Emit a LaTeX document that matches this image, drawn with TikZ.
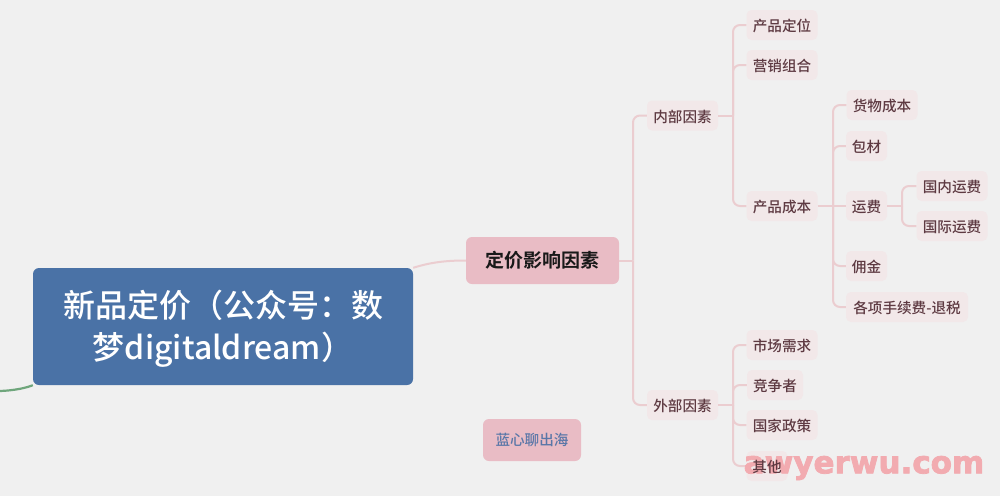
\documentclass[tikz,border=0pt]{standalone}
\usepackage{fontspec}
\setmainfont{Noto Sans CJK SC Medium}
\newfontfamily\cjkbold{Noto Sans CJK SC Bold}
\newfontfamily\wmfont[FakeBold=2.5]{DejaVu Sans Bold}
\tikzset{
  leaf/.style={fill=leaffill,text=leaftext,rounded corners=5pt,inner sep=0pt,minimum height=30pt,font=\fontsize{14.6}{16}\selectfont,execute at begin node={\rule{0pt}{14.8pt}}},
  rootbox/.style={fill=rootblue,text=white,rounded corners=6pt,inner sep=0pt,minimum width=380pt,minimum height=117pt,align=center,font=\fontsize{32}{42}\selectfont},
  mainbox/.style={fill=pinkbox,text=black!90,rounded corners=6pt,inner sep=0pt,minimum width=153pt,minimum height=47pt,font=\fontsize{19}{22}\cjkbold},
  notebox/.style={fill=pinkbox,text=noteblue,rounded corners=6pt,inner sep=0pt,minimum width=98pt,minimum height=42pt,font=\fontsize{14.6}{16}\selectfont},
  link/.style={draw=linkpink,line width=2pt,rounded corners=7pt},
  greenlink/.style={draw=linkgreen,line width=2.2pt},
  wmark/.style={text=wmpink,inner sep=0pt,font=\fontsize{31}{32}\wmfont}
}
\definecolor{bg}{HTML}{F0F0F0}
\definecolor{leaffill}{HTML}{F2E8E9}
\definecolor{leaftext}{HTML}{5E3A42}
\definecolor{rootblue}{HTML}{4A72A6}
\definecolor{pinkbox}{HTML}{E9BCC5}
\definecolor{noteblue}{HTML}{5A77A8}
\definecolor{linkpink}{HTML}{EBCDD0}
\definecolor{linkgreen}{HTML}{6FA67C}
\definecolor{wmpink}{HTML}{F2ABB0}
\begin{document}
\begin{tikzpicture}[x=1pt,y=-1pt]
\useasboundingbox (0,0) rectangle (1000,496);
\fill[bg] (0,0) rectangle (1000,496);
% hubs
\coordinate (hubmain) at (633,260.5);
\coordinate (hubin) at (733,115.5);
\coordinate (hubout) at (733,405);
\coordinate (hubcost) at (833,206);
\coordinate (hubship) at (902,206);
\coordinate (greenend) at (0,391);
% nodes
\node[rootbox] (root) at (223,326.5) {\rule{0pt}{31pt}新品定价（公众号：数\\梦digitaldream）};
\node[mainbox] (main) at (542.5,260.5) {定价影响因素};
\node[notebox] (note) at (532,440) {蓝心聊出海};
\node[leaf,minimum width=71pt] (inner) at (682.5,115.5) {内部因素};
\node[leaf,minimum width=71pt] (outer) at (682.5,405) {外部因素};
\node[leaf,minimum width=71pt] (pos) at (782,25) {产品定位};
\node[leaf,minimum width=71pt] (mix) at (782,65) {营销组合};
\node[leaf,minimum width=71pt] (cost) at (782,206) {产品成本};
\node[leaf,minimum width=71pt] (goods) at (882,105) {货物成本};
\node[leaf,minimum width=41pt] (pack) at (866.5,146) {包材};
\node[leaf,minimum width=41pt] (ship) at (866.5,206) {运费};
\node[leaf,minimum width=71pt] (dom) at (952,186) {国内运费};
\node[leaf,minimum width=71pt] (intl) at (952,226) {国际运费};
\node[leaf,minimum width=41pt] (comm) at (866.5,266) {佣金};
\node[leaf,minimum width=122pt] (fees) at (907,307) {各项手续费-退税};
\node[leaf,minimum width=71pt] (demand) at (782,345) {市场需求};
\node[leaf,minimum width=56pt] (rival) at (775,385) {竞争者};
\node[leaf,minimum width=71pt] (policy) at (782,425) {国家政策};
\node[leaf,minimum width=41pt] (otherplate) at (767,466) {};
% connectors
\draw[link,rounded corners=0pt] (root.north east) .. controls (430,262.5) and (445,260.5) .. (main.west);
\draw[greenlink] (greenend) .. controls (14,390.5) and (26,388) .. (root.south west);
\draw[link] (main.east) -- (hubmain);
\draw[link] (inner.west) -| (hubmain);
\draw[link] (outer.west) -| (hubmain);
\draw[link] (inner.east) -- (hubin);
\draw[link] (pos.west) -| (hubin);
\draw[link] (mix.west) -| (hubin);
\draw[link] (cost.west) -| (hubin);
\draw[link] (outer.east) -- (hubout);
\draw[link] (demand.west) -| (hubout);
\draw[link] (rival.west) -| (hubout);
\draw[link] (policy.west) -| (hubout);
\draw[link] (otherplate.west) -| (hubout);
\draw[link] (cost.east) -- (ship.west);
\draw[link] (goods.west) -| (hubcost);
\draw[link] (pack.west) -| (hubcost);
\draw[link] (comm.west) -| (hubcost);
\draw[link] (fees.west) -| (hubcost);
\draw[link] (ship.east) -- (hubship);
\draw[link] (dom.west) -| (hubship);
\draw[link] (intl.west) -| (hubship);
% watermark, then the label that shows through it
\node[wmark] (wm) at (864,468) {awyerwu.com};
\node[leaf,fill=none,minimum width=41pt] (other) at (767,466) {其他};
\end{tikzpicture}
\end{document}
